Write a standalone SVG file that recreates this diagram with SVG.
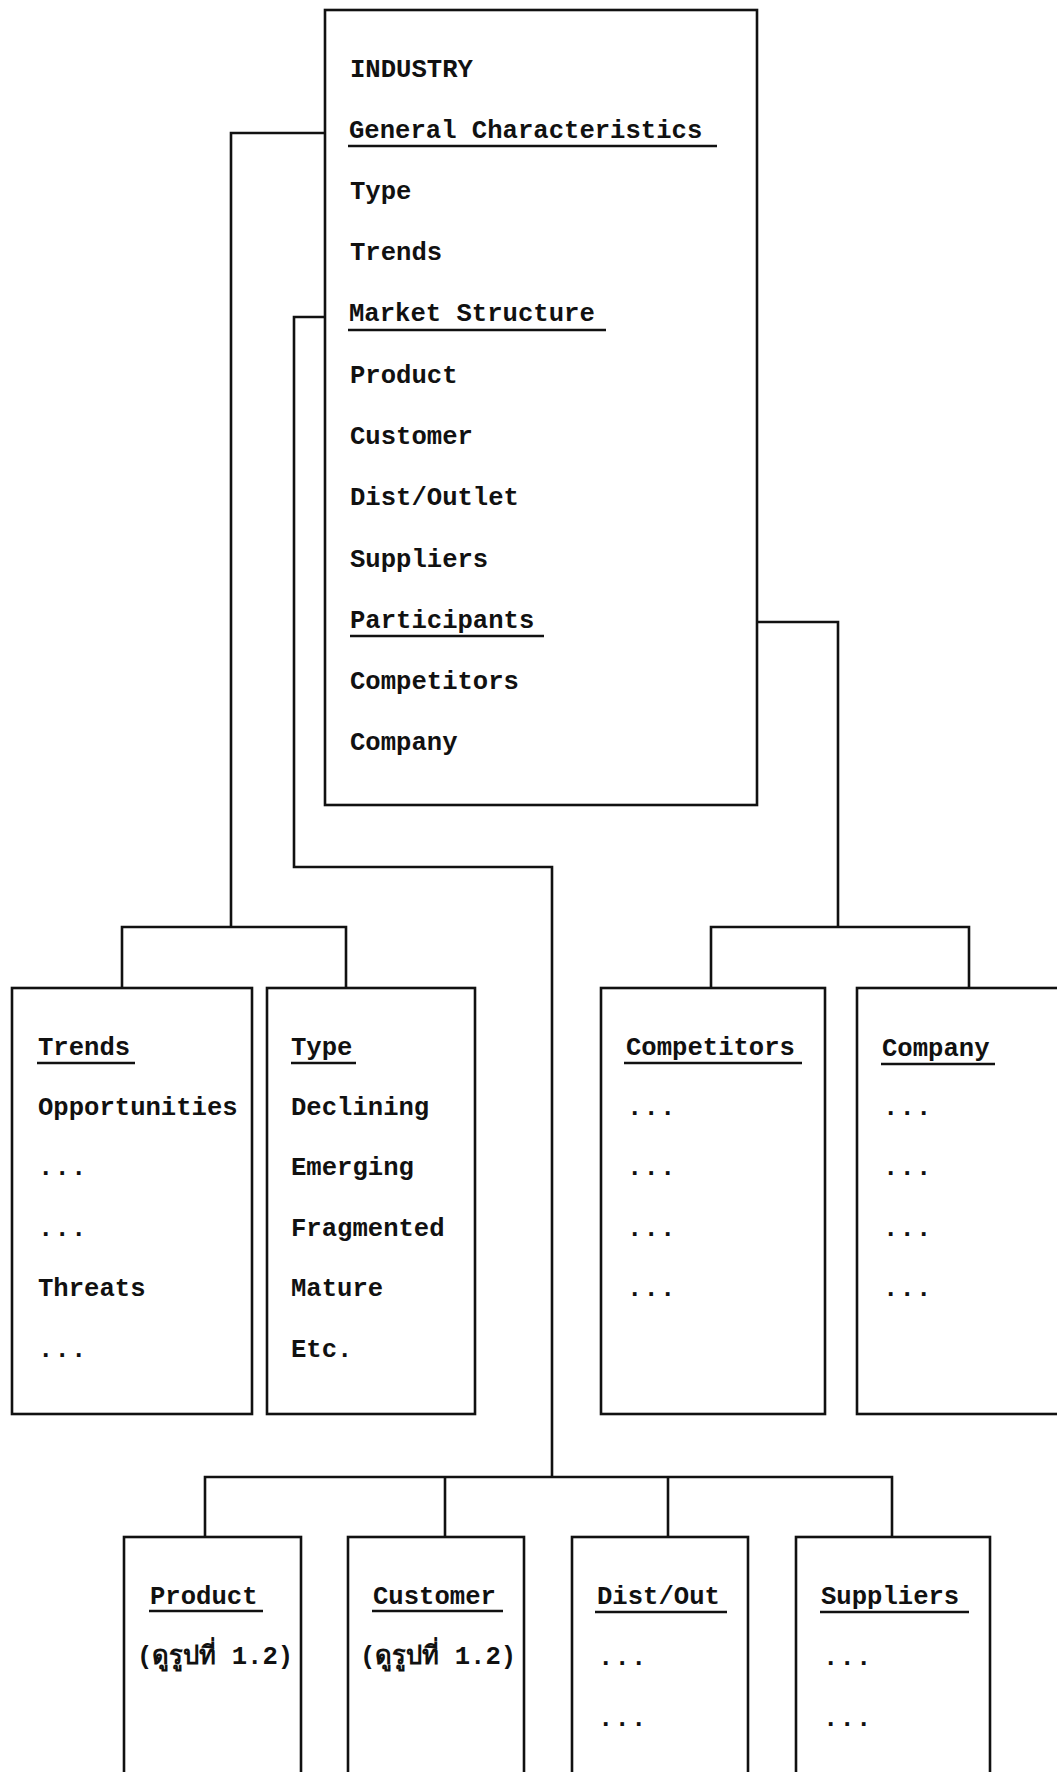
<svg xmlns="http://www.w3.org/2000/svg" width="1057" height="1772" viewBox="0 0 1057 1772">
<style>
.bg{fill:#ffffff}
.box{fill:none;stroke:#111;stroke-width:2.6}
.c{fill:none;stroke:#111;stroke-width:2.6}
.u{stroke:#111;stroke-width:2.6}
.t{font-family:"Liberation Mono","DejaVu Sans Mono",monospace;font-size:25.6px;font-weight:bold;fill:#111}
.th{font-family:"Liberation Mono","DejaVu Sans Mono","Noto Sans","DejaVu Sans",sans-serif;font-size:25.6px;font-weight:bold;fill:#111}
.d{letter-spacing:1.2px}
</style>
<rect class="bg" x="0" y="0" width="1057" height="1772"/>

<g id="connectors">
  <path class="c" d="M325 133 H231 V927"/>
  <path class="c" d="M122 988 V927 H346 V988"/>
  <path class="c" d="M325 317 H294 V867 H552 V1477"/>
  <path class="c" d="M205 1537 V1477 H892 V1537"/>
  <path class="c" d="M445 1477 V1537"/>
  <path class="c" d="M668 1477 V1537"/>
  <path class="c" d="M757 622 H838 V927"/>
  <path class="c" d="M711 988 V927 H969 V988"/>
</g>

<g id="industry">
  <rect class="box" x="325" y="10" width="432" height="795"/>
  <text class="t" x="350" y="76.5">INDUSTRY</text>
  <text class="t" x="349" y="137.5">General Characteristics</text>
  <line class="u" x1="348" y1="146" x2="717" y2="146"/>
  <text class="t" x="350" y="198.5">Type</text>
  <text class="t" x="350" y="259.5">Trends</text>
  <text class="t" x="349" y="321">Market Structure</text>
  <line class="u" x1="348" y1="330" x2="606" y2="330"/>
  <text class="t" x="350" y="382.5">Product</text>
  <text class="t" x="350" y="444">Customer</text>
  <text class="t" x="350" y="505">Dist/Outlet</text>
  <text class="t" x="350" y="566.5">Suppliers</text>
  <text class="t" x="350" y="627.5">Participants</text>
  <line class="u" x1="350" y1="636" x2="544" y2="636"/>
  <text class="t" x="350" y="688.5">Competitors</text>
  <text class="t" x="350" y="750">Company</text>
</g>

<g id="trends">
  <rect class="box" x="12" y="988" width="240" height="426"/>
  <text class="t" x="38" y="1055">Trends</text>
  <line class="u" x1="37" y1="1063" x2="135" y2="1063"/>
  <text class="t" x="38" y="1115">Opportunities</text>
  <text class="t d" x="38" y="1175">...</text>
  <text class="t d" x="38" y="1236">...</text>
  <text class="t" x="38" y="1296">Threats</text>
  <text class="t d" x="38" y="1357">...</text>
</g>

<g id="type">
  <rect class="box" x="267" y="988" width="208" height="426"/>
  <text class="t" x="291" y="1055">Type</text>
  <line class="u" x1="291" y1="1063" x2="356" y2="1063"/>
  <text class="t" x="291" y="1115">Declining</text>
  <text class="t" x="291" y="1175">Emerging</text>
  <text class="t" x="291" y="1236">Fragmented</text>
  <text class="t" x="291" y="1296">Mature</text>
  <text class="t" x="291" y="1357">Etc.</text>
</g>

<g id="competitors">
  <rect class="box" x="601" y="988" width="224" height="426"/>
  <text class="t" x="626" y="1055">Competitors</text>
  <line class="u" x1="624" y1="1063" x2="802" y2="1063"/>
  <text class="t d" x="627" y="1115">...</text>
  <text class="t d" x="627" y="1175">...</text>
  <text class="t d" x="627" y="1236">...</text>
  <text class="t d" x="627" y="1296">...</text>
</g>

<g id="company">
  <rect class="box" x="857" y="988" width="215" height="426"/>
  <text class="t" x="882" y="1056">Company</text>
  <line class="u" x1="881" y1="1064" x2="995" y2="1064"/>
  <text class="t d" x="883" y="1115">...</text>
  <text class="t d" x="883" y="1175">...</text>
  <text class="t d" x="883" y="1236">...</text>
  <text class="t d" x="883" y="1296">...</text>
</g>

<g id="product">
  <rect class="box" x="124" y="1537" width="177" height="260"/>
  <text class="t" x="150" y="1604">Product</text>
  <line class="u" x1="149" y1="1611" x2="263" y2="1611"/>
  <text class="th" x="137" y="1664">(ดูรูปที่ 1.2)</text>
</g>

<g id="customer">
  <rect class="box" x="348" y="1537" width="176" height="260"/>
  <text class="t" x="373" y="1604">Customer</text>
  <line class="u" x1="372" y1="1611" x2="503" y2="1611"/>
  <text class="th" x="360" y="1664">(ดูรูปที่ 1.2)</text>
</g>

<g id="dist-out">
  <rect class="box" x="572" y="1537" width="176" height="260"/>
  <text class="t" x="597" y="1604">Dist/Out</text>
  <line class="u" x1="595" y1="1612" x2="727" y2="1612"/>
  <text class="t d" x="598" y="1665">...</text>
  <text class="t d" x="598" y="1726">...</text>
</g>

<g id="suppliers">
  <rect class="box" x="796" y="1537" width="194" height="260"/>
  <text class="t" x="821" y="1604">Suppliers</text>
  <line class="u" x1="820" y1="1612" x2="969" y2="1612"/>
  <text class="t d" x="823" y="1665">...</text>
  <text class="t d" x="823" y="1726">...</text>
</g>
</svg>
